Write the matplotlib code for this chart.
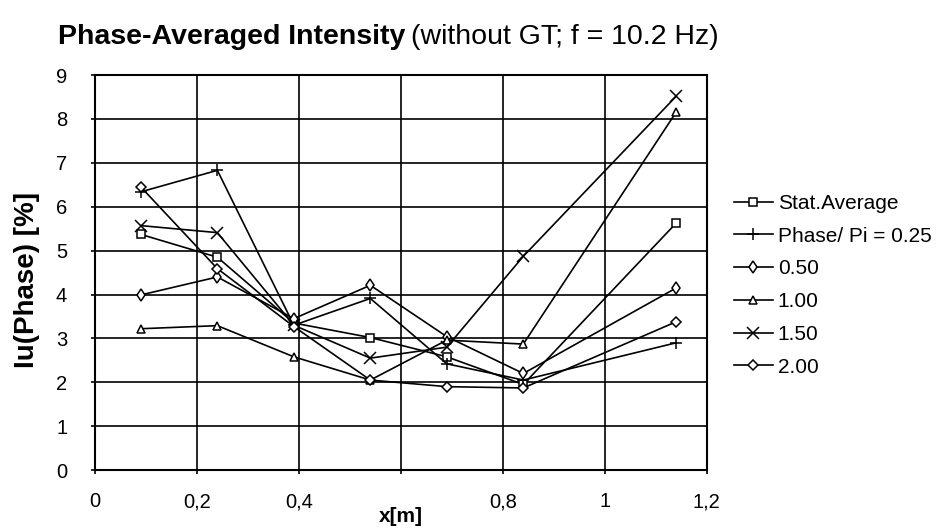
import numpy as np
import matplotlib
matplotlib.use("Agg")
import matplotlib.pyplot as plt

plt.rcParams['font.family'] = ['Liberation Sans', 'DejaVu Sans']

# Daten (x-Positionen in m, Intensitaet in %)
x = [0.09, 0.24, 0.39, 0.54, 0.69, 0.84, 1.14]
stat_avg = [5.37, 4.85, 3.35, 3.02, 2.58, 1.95, 5.63]
ph_025 = [6.34, 6.83, 3.30, 3.91, 2.42, 2.05, 2.90]
ph_050 = [3.99, 4.40, 3.45, 4.21, 3.04, 2.20, 4.15]
ph_100 = [3.22, 3.29, 2.58, 2.05, 2.96, 2.87, 8.16]
ph_150 = [5.57, 5.41, 3.30, 2.55, 2.80, 4.87, 8.52]
ph_200 = [6.45, 4.59, 3.27, 2.05, 1.90, 1.87, 3.38]

labels = ['Stat.Average', 'Phase/ Pi = 0.25', '0.50', '1.00', '1.50', '2.00']
series = [stat_avg, ph_025, ph_050, ph_100, ph_150, ph_200]
markers = ['s', '+', 'd', '^', 'x', 'D']
msizes = [6, 9, 6, 6, 8, 5]

xticks = [0, 0.2, 0.4, 0.6, 0.8, 1.0, 1.2]
xticklabels = ['0', '0,2', '0,4', '', '0,8', '1', '1,2']

fig = plt.figure(figsize=(9.45, 5.29), dpi=100)
ax = fig.add_axes([0.1005, 0.1115, 0.6475, 0.7465])

for ys, lab, m, ms in zip(series, labels, markers, msizes):
    ax.plot(x, ys, color='black', lw=1.2, marker=m, markersize=ms,
            markerfacecolor='white', markeredgecolor='black', markeredgewidth=1.1,
            label=lab)

ax.set_xlim(0, 1.2)
ax.set_ylim(0, 9)
ax.set_xticks(xticks)
ax.set_xticklabels(xticklabels)
ax.set_yticks(range(0, 10))
ax.tick_params(labelsize=14.5, length=3, width=1.2)
ax.tick_params(axis='y', pad=17)
ax.tick_params(axis='x', pad=13)
ax.grid(True, color='black', lw=1.2)
ax.set_axisbelow(True)
for s in ax.spines.values():
    s.set_linewidth(1.5)

ax.set_xlabel('x[m]', fontsize=15, fontweight='bold')
ax.xaxis.set_label_coords(0.5, -0.094)
ax.set_ylabel('Iu(Phase) [%]', fontsize=20, fontweight='bold')
ax.yaxis.set_label_coords(-0.09, 0.482)

ax.legend(loc='center left', bbox_to_anchor=(1.013, 0.468), frameon=False,
          fontsize=15, handlelength=1.87, handletextpad=0.25, labelspacing=0.66)

# Titel: fetter Teil + normaler Teil
t1 = fig.text(0.061, 0.930, 'Phase-Averaged Intensity', fontsize=20.5, fontweight='bold', va='center')
fig.canvas.draw()
bb = t1.get_window_extent()
x2 = bb.x1 / fig.bbox.width
fig.text(x2 + 0.006, 0.930, '(without GT; f = 10.2 Hz)', fontsize=20.5, va='center')

fig.savefig('out.png', dpi=100)
